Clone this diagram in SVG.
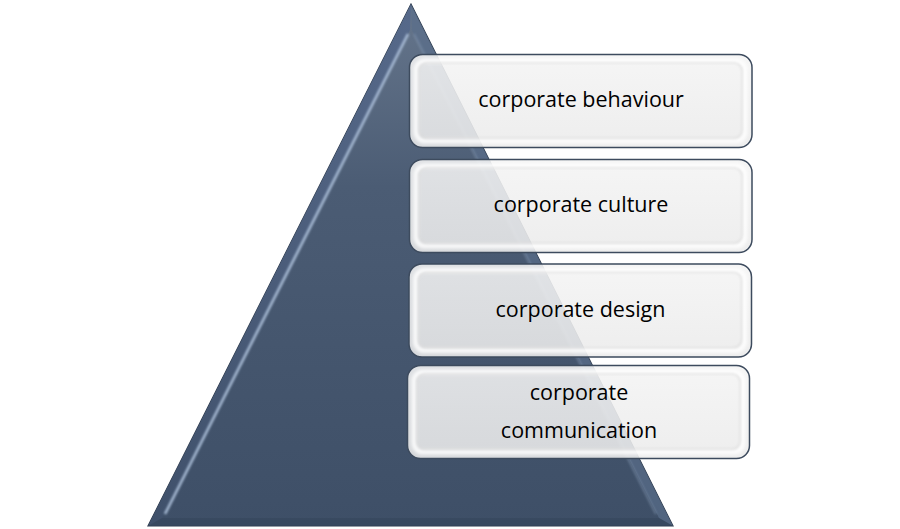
<svg xmlns="http://www.w3.org/2000/svg" width="900" height="529" viewBox="0 0 900 529">
<defs>
<linearGradient id="triFill" x1="0" y1="0" x2="0" y2="1">
<stop offset="0" stop-color="#66768c"/>
<stop offset="0.35" stop-color="#4b5c74"/>
<stop offset="1" stop-color="#3e4f67"/>
</linearGradient>
<linearGradient id="leftBevel" x1="0" y1="0" x2="1" y2="0">
<stop offset="0" stop-color="#3f506a"/>
<stop offset="1" stop-color="#56698a"/>
</linearGradient>
<linearGradient id="boxFill" x1="0" y1="0" x2="0" y2="1">
<stop offset="0" stop-color="#f4f4f4"/>
<stop offset="1" stop-color="#ebebeb"/>
</linearGradient>
<filter id="blur1" x="-20%" y="-20%" width="140%" height="140%">
<feGaussianBlur stdDeviation="1.2"/>
</filter>
<filter id="blur2" x="-10%" y="-10%" width="120%" height="120%">
<feGaussianBlur stdDeviation="1.5"/>
</filter>
</defs>
<style>
.box{fill:url(#boxFill);fill-opacity:0.88;stroke:#3d4b5e;stroke-width:1.5}
.inner{fill:none;stroke:#ffffff;stroke-width:5;stroke-opacity:0.8;filter:url(#blur2)}
.innerdark{fill:none;stroke:#d6d6d6;stroke-width:1.5;stroke-opacity:0.7;filter:url(#blur1)}
.lbl{font-family:"Open Sans","Liberation Sans",Arial,sans-serif;font-size:21.5px;fill:#000000;text-anchor:middle}
</style>
<rect width="900" height="529" fill="#ffffff"/>
<g id="pyramid">
<polygon points="411,4 148,526 673,526" fill="url(#triFill)" stroke="#2f3c4e" stroke-width="1.2"/>
<polygon points="411,4 148,526 162,518 410,30" fill="url(#leftBevel)"/>
<polygon points="411,4 673,526 659,518 412,30" fill="#5a6e8a" fill-opacity="0.7"/>
<polygon points="148,526 673,526 659,518 162,518" fill="#36465c" fill-opacity="0.6"/>
<line x1="408" y1="34" x2="165" y2="514" stroke="#a8bcd6" stroke-width="2.5" filter="url(#blur1)"/>
<line x1="414" y1="34" x2="656" y2="514" stroke="#7f93ad" stroke-width="2" stroke-opacity="0.6" filter="url(#blur1)"/>
</g>
<g id="connectors"></g>
<g id="box-behaviour">
<rect class="box" x="409.5" y="54.5" width="342.5" height="93" rx="13"/>
<rect class="inner" x="416" y="61" width="329" height="80" rx="9"/>
<rect class="innerdark" x="419" y="63" width="323" height="75" rx="8"/>
<text class="lbl" x="581" y="107">corporate behaviour</text>
</g>
<g id="box-culture">
<rect class="box" x="409.5" y="159.5" width="342.5" height="93" rx="13"/>
<rect class="inner" x="416" y="166" width="329" height="80" rx="9"/>
<rect class="innerdark" x="419" y="168" width="323" height="75" rx="8"/>
<text class="lbl" x="581" y="212">corporate culture</text>
</g>
<g id="box-design">
<rect class="box" x="409" y="264" width="342.5" height="93" rx="13"/>
<rect class="inner" x="415.5" y="270.5" width="329" height="80" rx="9"/>
<rect class="innerdark" x="418.5" y="272.5" width="323" height="75" rx="8"/>
<text class="lbl" x="580.5" y="317">corporate design</text>
</g>
<g id="box-communication">
<rect class="box" x="407.5" y="365.5" width="342" height="93" rx="13"/>
<rect class="inner" x="414" y="372" width="329" height="80" rx="9"/>
<rect class="innerdark" x="417" y="374" width="323" height="75" rx="8"/>
<text class="lbl" x="579" y="400">corporate</text>
<text class="lbl" x="579" y="438">communication</text>
</g>
</svg>
